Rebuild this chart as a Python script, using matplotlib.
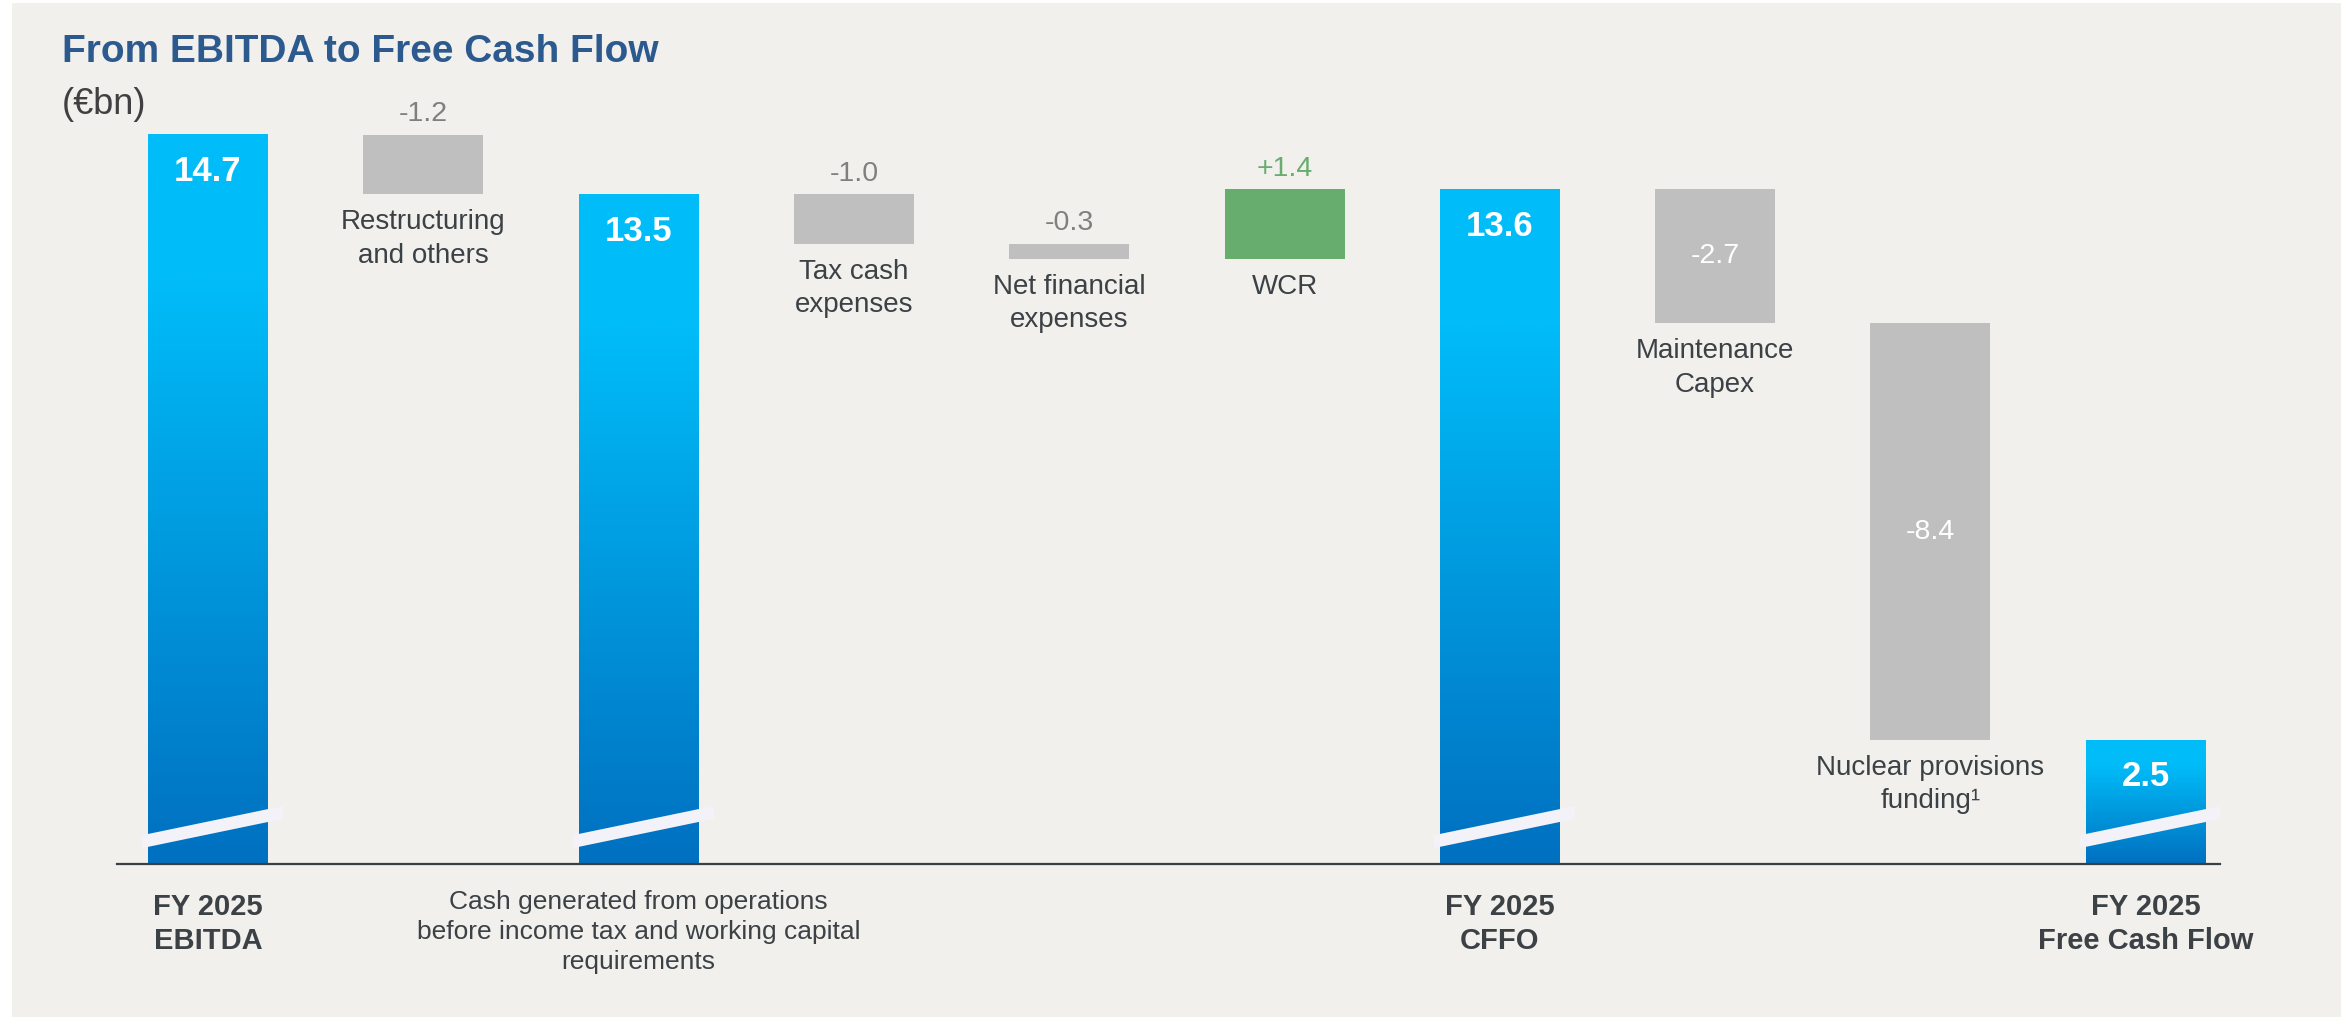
import numpy as np
import matplotlib
matplotlib.use("Agg")
import matplotlib.pyplot as plt
from matplotlib.patches import Rectangle, Polygon
from matplotlib.colors import LinearSegmentedColormap

plt.rcParams['font.family'] = ['Liberation Sans', 'DejaVu Sans']

# ---- data (EUR bn) ----
steps = [
    "FY 2025\nEBITDA",
    "Restructuring\nand others",
    "Cash generated from operations\nbefore income tax and working capital\nrequirements",
    "Tax cash\nexpenses",
    "Net financial\nexpenses",
    "WCR",
    "FY 2025\nCFFO",
    "Maintenance\nCapex",
    "Nuclear provisions\nfunding\u00b9",
    "FY 2025\nFree Cash Flow",
]
values = [14.7, -1.2, 13.5, -1.0, -0.3, 1.4, 13.6, -2.7, -8.4, 2.5]
is_total = [True, False, True, False, False, False, True, False, False, True]
value_labels = ["14.7", "-1.2", "13.5", "-1.0", "-0.3", "+1.4", "13.6", "-2.7", "-8.4", "2.5"]

# colours
CYAN = "#00BCF8"
BLUE = "#0070C0"
GREY = "#BFBFBF"
GREEN = "#66AD6E"
TXT = "#3C4146"
TXT_GREY = "#7F7F7F"
TITLE = "#2C5A8E"
PANEL = "#F1F0ED"
SLASH = "#F3F2F8"

W, H = 2351, 1017
fig = plt.figure(figsize=(W / 100, H / 100), dpi=100, facecolor="white")

# light panel behind everything
fig.patches.append(Rectangle((12 / W, 0), (2341 - 12) / W, (H - 3) / H,
                             transform=fig.transFigure, facecolor=PANEL,
                             edgecolor="none", zorder=-10))

# axes placed so that y=0 sits on the base line (px 864) at ~49.6 px per bn
px_unit = 49.6
step_px = 215.3
x0_px = 208
ax_l, ax_r, ax_t, ax_b = 117, 2220, 100, 864
ax = fig.add_axes([ax_l / W, (H - ax_b) / H, (ax_r - ax_l) / W, (ax_b - ax_t) / H])
ax.set_facecolor("none")
ax.set_zorder(1)
ax.set_xlim((ax_l - x0_px) / step_px, (ax_r - x0_px) / step_px)
ax.set_ylim(0, (ax_b - ax_t) / px_unit)
for s in ["top", "left", "right"]:
    ax.spines[s].set_visible(False)
ax.spines["bottom"].set_color("#3A3F44")
ax.spines["bottom"].set_linewidth(1.6)
ax.spines["bottom"].set_zorder(5)
ax.set_xticks([])
ax.set_yticks([])

bw = 120 / step_px
grad_cmap = LinearSegmentedColormap.from_list("bl", [BLUE, CYAN])
grad = np.linspace(0, 1, 256)
grad = np.clip(grad / 0.8, 0, 1)[:, None]

running = 0.0
for i, (lab, v, tot, vl) in enumerate(zip(steps, values, is_total, value_labels)):
    if tot:
        lo, hi = 0.0, v
        running = v
        ax.imshow(grad, cmap=grad_cmap, origin="lower", aspect="auto",
                  extent=(i - bw / 2, i + bw / 2, lo, hi), zorder=2,
                  interpolation="bilinear")
        # broken axis slash
        xl, xr = i - bw / 2 - 6 / step_px, i + bw / 2 + 15 / step_px
        ax.add_patch(Polygon([(xl, 0.32), (xr, 0.91), (xr, 1.17), (xl, 0.58)],
                             closed=True, facecolor=SLASH, edgecolor="none", zorder=3))
        ax.text(i, hi - 0.74, vl, ha="center", va="center", color="white",
                fontsize=25, fontweight="bold", zorder=4)
        bold = lab.startswith("FY")
        ax.text(i, -(924 - ax_b) / px_unit if bold else -(932 - ax_b) / px_unit, lab,
                ha="center", va="center", color=TXT, fontsize=21 if bold else 19,
                fontweight="bold" if bold else "normal", linespacing=1.3 if bold else 1.3,
                clip_on=False)
    else:
        lo, hi = sorted([running, running + v])
        running += v
        col = GREEN if v > 0 else GREY
        ax.bar(i, hi - lo, bottom=lo, width=bw, color=col, edgecolor="none", zorder=2)
        if abs(v) >= 2:
            ax.text(i, (lo + hi) / 2, vl, ha="center", va="center", color="white",
                    fontsize=20.5, zorder=4)
        else:
            ax.text(i, hi + 0.42, vl, ha="center", va="center",
                    color=GREEN if v > 0 else TXT_GREY, fontsize=20.5)
        ax.text(i, lo - 0.3, lab, ha="center", va="top", color=TXT, fontsize=20,
                linespacing=1.38)

fig.text(62 / W, 1 - 52 / H, "From EBITDA to Free Cash Flow", ha="left", va="center",
         color=TITLE, fontsize=28, fontweight="bold")
fig.text(62 / W, 1 - 105 / H, "(\u20acbn)", ha="left", va="center",
         color="#404040", fontsize=26)

fig.savefig("out.png", dpi=100, facecolor="white")
